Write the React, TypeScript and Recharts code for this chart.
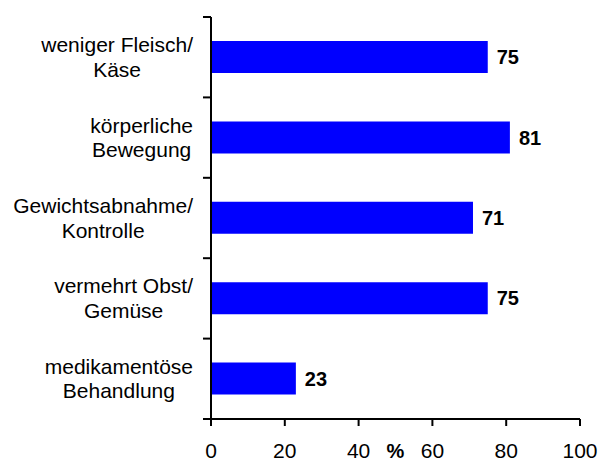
import React from "react";
import { BarChart, Bar, XAxis, YAxis, LabelList } from "recharts";

const categories = [
  "weniger Fleisch/\nKäse",
  "körperliche\nBewegung",
  "Gewichtsabnahme/\nKontrolle",
  "vermehrt Obst/\nGemüse",
  "medikamentöse\nBehandlung",
];
const values = [75, 81, 71, 75, 23];
const xTicks = [0, 20, 40, 60, 80, 100];
const axisUnit = "%";

const data = categories.map((c, i) => ({ name: c, value: values[i] }));

const W = 601;
const H = 460;
const MARGIN = { top: 17, right: 21, bottom: 0, left: 0 };
const X_AXIS_H = 41;
const Y_AXIS_W = 211;
const PLOT_H = H - MARGIN.top - MARGIN.bottom - X_AXIS_H;
const FONT = "Arial, 'Liberation Sans', sans-serif";
const LABEL_SIZE = 21;

let ctx: CanvasRenderingContext2D | null = null;
function measure(t: string) {
  if (!ctx) {
    const c = document.createElement("canvas");
    ctx = c.getContext("2d");
  }
  if (!ctx) return t.length * 10;
  ctx.font = `${LABEL_SIZE}px 'Liberation Sans', Arial, sans-serif`;
  return ctx.measureText(t).width;
}

const CatTick = (props: any) => {
  const { x, y, payload, index } = props;
  const lines = String(payload.value).split("\n");
  const maxW = Math.max(...lines.map(measure));
  const cx = x - maxW / 2;
  const band = PLOT_H / categories.length;
  const axisX = x + 18;
  return (
    <g>
      {lines.map((l, i) => (
        <text
          key={i}
          x={cx}
          y={y - 5 + i * 24.5}
          textAnchor="middle"
          fontSize={LABEL_SIZE}
          fontFamily={FONT}
          fill="#000"
        >
          {l}
        </text>
      ))}
      <line x1={axisX - 8} x2={axisX} y1={y - band / 2} y2={y - band / 2} stroke="#000" strokeWidth={2} />
      {index === categories.length - 1 && (
        <line x1={axisX - 8} x2={axisX} y1={y + band / 2} y2={y + band / 2} stroke="#000" strokeWidth={2} />
      )}
    </g>
  );
};

const UnitLabel = (props: any) => {
  const vb = props.viewBox || {};
  return (
    <text
      x={vb.x + vb.width / 2}
      y={vb.y + 39}
      textAnchor="middle"
      fontSize={20}
      fontWeight="bold"
      fontFamily={FONT}
      fill="#000"
    >
      {axisUnit}
    </text>
  );
};

export default function App() {
  return (
    <div style={{ position: "absolute", left: 0, top: 0, background: "#fff" }}>
      <BarChart
        width={W}
        height={H}
        data={data}
        layout="vertical"
        margin={MARGIN}
        barCategoryGap="30%"
      >
        <XAxis
          type="number"
          domain={[0, 100]}
          ticks={xTicks}
          height={X_AXIS_H}
          axisLine={{ stroke: "#000", strokeWidth: 2 }}
          tickLine={{ stroke: "#000", strokeWidth: 2 }}
          tickSize={7}
          tickMargin={17}
          tick={{ fontSize: 21, fill: "#000", fontFamily: FONT }}
          interval={0}
          label={<UnitLabel />}
        />
        <YAxis
          type="category"
          dataKey="name"
          width={Y_AXIS_W}
          axisLine={{ stroke: "#000", strokeWidth: 2 }}
          tickLine={false}
          tickSize={0}
          tickMargin={18}
          tick={<CatTick />}
          interval={0}
        />
        <Bar dataKey="value" fill="#0000FF" barSize={32} isAnimationActive={false}>
          <LabelList
            dataKey="value"
            position="right"
            offset={9}
            fill="#000"
            fontSize={20}
            fontWeight="bold"
            fontFamily={FONT}
          />
        </Bar>
      </BarChart>
    </div>
  );
}
